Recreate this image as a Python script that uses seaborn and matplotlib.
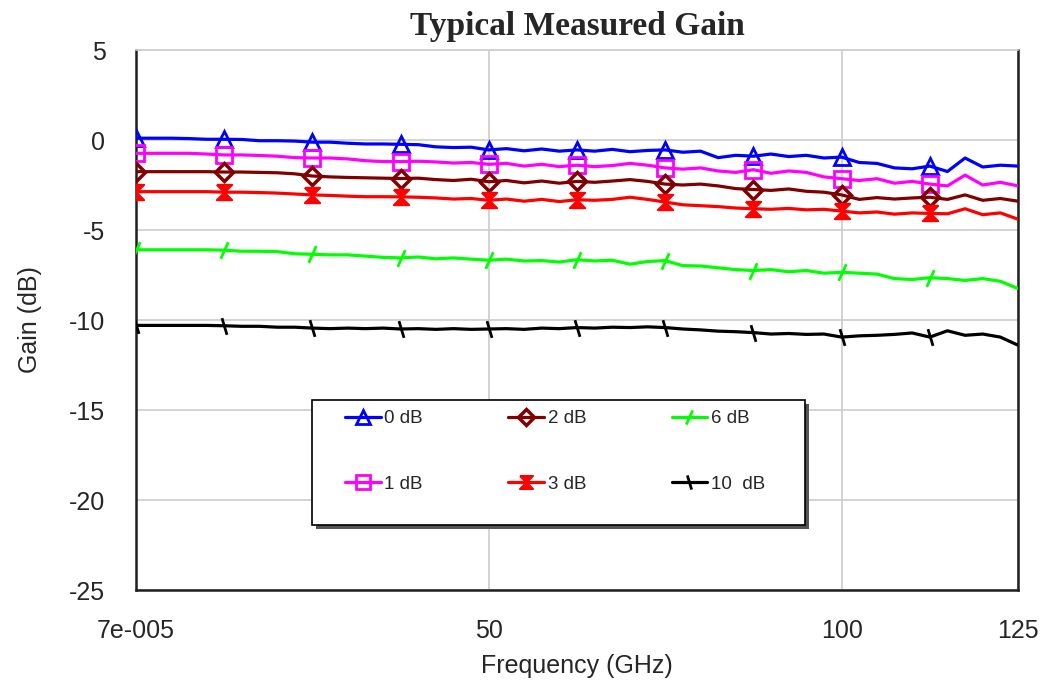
import numpy as np
import pandas as pd
import matplotlib
matplotlib.use("Agg")
import matplotlib.pyplot as plt
from matplotlib.lines import Line2D
from matplotlib.patches import Rectangle
import seaborn as sns

# ---------------- data ----------------
freq_ghz = [0.00007, 2.5, 5, 7.5, 10, 12.5, 15, 17.5, 20, 22.5,
            25, 27.5, 30, 32.5, 35, 37.5, 40, 42.5, 45, 47.5,
            50, 52.5, 55, 57.5, 60, 62.5, 65, 67.5, 70, 72.5,
            75, 77.5, 80, 82.5, 85, 87.5, 90, 92.5, 95, 97.5,
            100, 102.5, 105, 107.5, 110, 112.5, 115, 117.5, 120, 122.5, 125]

gain_0db = [0.10, 0.10, 0.10, 0.08, 0.04, 0.04, 0.03, -0.04, -0.04, -0.06,
            -0.12, -0.12, -0.18, -0.22, -0.22, -0.24, -0.26, -0.38, -0.42, -0.40,
            -0.55, -0.48, -0.60, -0.50, -0.62, -0.55, -0.62, -0.52, -0.65, -0.58,
            -0.55, -0.68, -0.62, -0.98, -0.85, -0.90, -0.78, -0.92, -0.85, -1.00,
            -0.95, -1.25, -1.30, -1.55, -1.60, -1.45, -1.75, -1.00, -1.50, -1.40, -1.45]

gain_1db = [-0.74, -0.74, -0.74, -0.74, -0.78, -0.83, -0.83, -0.86, -0.90, -0.98,
            -1.00, -1.00, -1.05, -1.15, -1.20, -1.20, -1.18, -1.22, -1.28, -1.25,
            -1.35, -1.30, -1.45, -1.35, -1.48, -1.40, -1.48, -1.42, -1.30, -1.40,
            -1.55, -1.62, -1.55, -1.72, -1.80, -1.65, -1.85, -1.72, -1.80, -2.05,
            -2.15, -2.25, -2.15, -2.40, -2.30, -2.45, -2.55, -1.95, -2.50, -2.35, -2.55]

gain_2db = [-1.76, -1.76, -1.76, -1.76, -1.76, -1.78, -1.78, -1.80, -1.82, -1.88,
            -2.00, -2.05, -2.08, -2.10, -2.12, -2.14, -2.12, -2.20, -2.25, -2.18,
            -2.32, -2.25, -2.38, -2.28, -2.40, -2.30, -2.35, -2.28, -2.20, -2.30,
            -2.45, -2.50, -2.45, -2.55, -2.70, -2.75, -2.80, -2.72, -2.85, -2.90,
            -3.05, -3.30, -3.20, -3.28, -3.22, -3.18, -3.30, -3.05, -3.35, -3.25, -3.40]

gain_3db = [-2.87, -2.87, -2.87, -2.87, -2.87, -2.90, -2.90, -2.92, -2.95, -3.00,
            -3.05, -3.08, -3.12, -3.15, -3.15, -3.16, -3.18, -3.22, -3.28, -3.25,
            -3.35, -3.28, -3.40, -3.30, -3.42, -3.32, -3.35, -3.30, -3.18, -3.30,
            -3.45, -3.60, -3.65, -3.70, -3.78, -3.82, -3.85, -3.80, -3.88, -3.85,
            -3.95, -4.05, -4.00, -4.12, -4.05, -4.08, -4.10, -3.82, -4.15, -4.05, -4.40]

gain_6db = [-6.10, -6.10, -6.10, -6.10, -6.10, -6.12, -6.18, -6.18, -6.20, -6.32,
            -6.35, -6.38, -6.38, -6.45, -6.52, -6.55, -6.50, -6.60, -6.55, -6.62,
            -6.68, -6.62, -6.72, -6.70, -6.78, -6.65, -6.72, -6.68, -6.90, -6.75,
            -6.70, -6.98, -7.00, -7.10, -7.20, -7.25, -7.20, -7.32, -7.25, -7.40,
            -7.35, -7.40, -7.45, -7.70, -7.75, -7.65, -7.70, -7.80, -7.70, -7.85, -8.25]

gain_10db = [-10.30, -10.30, -10.30, -10.30, -10.30, -10.32, -10.35, -10.35, -10.40, -10.40,
             -10.45, -10.48, -10.45, -10.48, -10.45, -10.50, -10.48, -10.52, -10.48, -10.52,
             -10.50, -10.48, -10.52, -10.45, -10.48, -10.42, -10.45, -10.40, -10.42, -10.38,
             -10.42, -10.50, -10.55, -10.62, -10.65, -10.70, -10.78, -10.75, -10.80, -10.78,
             -10.95, -10.88, -10.85, -10.80, -10.72, -10.95, -10.60, -10.85, -10.78, -10.95, -11.40]

series_names = ["0 dB", "1 dB", "2 dB", "3 dB", "6 dB", "10  dB"]
series_values = [gain_0db, gain_1db, gain_2db, gain_3db, gain_6db, gain_10db]

x_ticks = [0, 50, 100, 125]
x_tick_labels = ["7e-005", "50", "100", "125"]
y_ticks = [-25, -20, -15, -10, -5, 0, 5]

# ---------------- styles ----------------
bowtie = [(-1, 1), (1, 1), (-1, -1), (1, -1), (-1, 1)]
slash = [(-0.45, -1), (0.45, 1)]
backslash = [(-0.3, 1), (0.3, -1)]

styles = {
    "0 dB":   dict(color="#0000FF", marker="^", ms=12, mfc="none", mew=2.0),
    "1 dB":   dict(color="#FF00FF", marker="s", ms=12, mfc="none", mew=2.0),
    "2 dB":   dict(color="#800000", marker="D", ms=9, mfc="none", mew=2.5),
    "3 dB":   dict(color="#FF0000", marker=bowtie, ms=11, mfc="#FF0000", mew=1.5),
    "6 dB":   dict(color="#00FF00", marker=slash, ms=12, mfc="none", mew=2.0),
    "10  dB": dict(color="#000000", marker=backslash, ms=12, mfc="none", mew=2.0),
}

sns.set_style("white")
plt.rcParams["font.family"] = ["Liberation Sans", "DejaVu Sans"]
plt.rcParams["axes.unicode_minus"] = False

W, H = 1044, 687
fig = plt.figure(figsize=(W / 100, H / 100), dpi=100)
L, R, T, B = 136, 1018, 50, 590
ax = fig.add_axes([L / W, 1 - B / H, (R - L) / W, (B - T) / H])

def ax_x(px):
    return (px - L) / (R - L)

def ax_y(py):
    return (B - py) / (B - T)

df = pd.DataFrame({"freq": freq_ghz})
handles = []
for name, vals in zip(series_names, series_values):
    st = styles[name]
    df[name] = vals
    sns.lineplot(data=df, x="freq", y=name, ax=ax, color=st["color"], lw=2.3,
                 marker=st["marker"], markersize=st["ms"],
                 markerfacecolor=st["mfc"], markeredgecolor=st["color"],
                 markeredgewidth=st["mew"], markevery=slice(0, 50, 5),
                 legend=False, zorder=3)
    handles.append(Line2D([], [], color=st["color"], lw=2.3, marker=st["marker"],
                          markersize=st["ms"] * 0.85, markerfacecolor=st["mfc"],
                          markeredgecolor=st["color"], markeredgewidth=st["mew"],
                          label=name))

ax.set_xlim(0, 125)
ax.set_ylim(-25, 5)
ax.set_xticks(x_ticks)
ax.set_xticklabels(x_tick_labels)
ax.set_yticks(y_ticks)
ax.tick_params(axis="both", length=0, labelsize=18)
ax.tick_params(axis="y", pad=22)
ax.tick_params(axis="x", pad=21)

ax.grid(True, color="#cccccc", lw=1.2)
ax.set_axisbelow(True)
for side in ["left", "right", "bottom"]:
    ax.spines[side].set_color("#202020")
    ax.spines[side].set_linewidth(1.8)
ax.spines["top"].set_color("#cccccc")
ax.spines["top"].set_linewidth(1.2)

ax.set_xlabel("Frequency (GHz)", fontsize=18)
ax.set_ylabel("Gain (dB)", fontsize=18)
ax.xaxis.set_label_coords(0.5, ax_y(654))
ax.yaxis.set_label_coords(ax_x(42), 0.5)
ax.set_title("Typical Measured Gain", fontsize=24, fontweight="bold",
             family=["Liberation Serif", "DejaVu Serif"], pad=11)

# legend box with drop shadow (reference style)
ax.add_patch(Rectangle((ax_x(316), ax_y(529)), ax_x(809) - ax_x(316), ax_y(404) - ax_y(529),
                       transform=ax.transAxes, facecolor="#555555", edgecolor="none",
                       zorder=6, clip_on=False))
ax.add_patch(Rectangle((ax_x(312), ax_y(525)), ax_x(805) - ax_x(312), ax_y(400) - ax_y(525),
                       transform=ax.transAxes, facecolor="white", edgecolor="#000000",
                       lw=1.2, zorder=7, clip_on=False))

leg = ax.legend(handles=handles, ncol=3, loc="upper left",
                bbox_to_anchor=(ax_x(345), ax_y(410)),
                frameon=False, fontsize=13.5,
                handlelength=1.9, handletextpad=0.2, columnspacing=4.55,
                labelspacing=2.6, borderpad=0, borderaxespad=0,
                numpoints=1)
leg.set_zorder(8)

fig.savefig("out.png", dpi=100)
